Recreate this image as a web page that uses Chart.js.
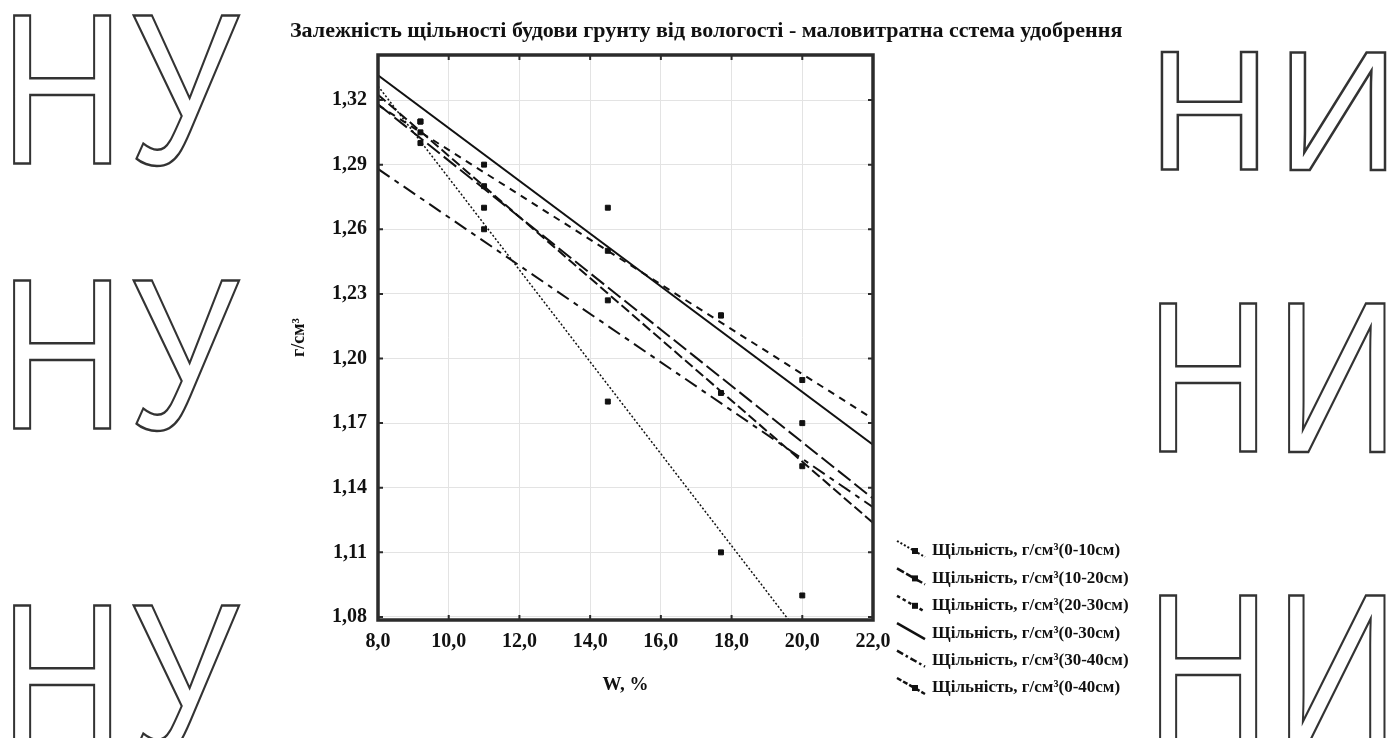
<!DOCTYPE html>
<html>
<head>
<meta charset="utf-8">
<title>Залежність щільності будови грунту від вологості</title>
<script src="https://cdn.jsdelivr.net/npm/chart.js@4.4.1/dist/chart.umd.min.js"></script>
<style>
    body { margin: 0; background: #fff; overflow: hidden; }
    #wrap { position: relative; width: 1394px; height: 738px; }
    .mark {
        position: absolute;
        font-family: "Liberation Sans", sans-serif;
        font-size: 215px;
        line-height: 1;
        color: transparent;
        -webkit-text-stroke: 2.5px #333;
        transform-origin: left top;
        transform: scaleX(0.8);
        letter-spacing: 6px;
        white-space: nowrap;
    }
    canvas { position: absolute; left: 0; top: 0; }
</style>
</head>
<body>
<div id="wrap">
    <div class="mark" style="left:0px; top:-18px;">НУ</div>
    <div class="mark" style="left:0px; top:247px;">НУ</div>
    <div class="mark" style="left:0px; top:572px;">НУ</div>
    <div class="mark" style="left:1148px; top:26px; font-size:170px; transform:scaleX(1.0);">НИ</div>
    <div class="mark" style="left:1146px; top:270px;">НИ</div>
    <div class="mark" style="left:1146px; top:562px;">НИ</div>
    <canvas id="densityChart" width="1394" height="738"></canvas>
</div>

<script>
// DATA
const chartTitle = "Залежність щільності будови грунту від вологості - маловитратна сстема удобрення";

const moisture = [9.2, 11.0, 14.5, 17.7, 20.0];

const density0_10 = [1.30, 1.26, 1.18, 1.11, 1.09];
const density10_20 = [1.31, 1.27, 1.27, 1.22, 1.17];
const density20_30 = [1.31, 1.29, 1.25, 1.22, 1.19];
const density0_40 = [1.305, 1.28, 1.227, 1.184, 1.15];

// fitted lines, read at W = 8 and W = 22
const trendX = [8, 22];
const trend0_10 = [1.3265, 1.0277];
const trend10_20 = [1.318, 1.135];
const trend20_30 = [1.3176, 1.172];
const trend0_30 = [1.3315, 1.160];
const trend30_40 = [1.288, 1.131];
const trend0_40 = [1.3225, 1.1237];

const xTicks = [8, 10, 12, 14, 16, 18, 20, 22];
const yTicks = [1.08, 1.11, 1.14, 1.17, 1.20, 1.23, 1.26, 1.29, 1.32];

const layers = ["0-10", "10-20", "20-30", "0-30", "30-40", "0-40"];

/* -------------------------
   SERIES STYLES
--------------------------*/

const series = [
    { layer: layers[0], points: density0_10, trend: trend0_10, dash: [2, 2], width: 1.5 },
    { layer: layers[1], points: density10_20, trend: trend10_20, dash: [16, 5], width: 2 },
    { layer: layers[2], points: density20_30, trend: trend20_30, dash: [7, 6], width: 2 },
    { layer: layers[3], points: null, trend: trend0_30, dash: [], width: 2 },
    { layer: layers[4], points: null, trend: trend30_40, dash: [14, 6, 5, 6], width: 2 },
    { layer: layers[5], points: density0_40, trend: trend0_40, dash: [10, 4], width: 2 }
];

const datasets = [];

series.forEach(s => {

    datasets.push({
        type: "line",
        label: s.layer,
        data: trendX.map((x, i) => ({ x: x, y: s.trend[i] })),
        borderColor: "#111",
        borderWidth: s.width,
        borderDash: s.dash,
        pointRadius: 0,
        fill: false
    });

    if (s.points) {
        datasets.push({
            type: "scatter",
            label: s.layer + " points",
            data: moisture.map((x, i) => ({ x: x, y: s.points[i] })),
            backgroundColor: "#111",
            borderColor: "#111",
            pointStyle: "rect",
            pointRadius: 3.5
        });
    }
});

const serif = "'Liberation Serif', 'DejaVu Serif', serif";

/* -------------------------
   TITLE, FRAME, LEGEND
--------------------------*/

const decorPlugin = {
    id: "decor",
    afterDraw(chart) {
        const ctx = chart.ctx;
        const area = chart.chartArea;
        const xs = chart.scales.x;
        const ys = chart.scales.y;

        ctx.save();

        // frame
        ctx.strokeStyle = "#2b2b2b";
        ctx.lineWidth = 3.5;
        ctx.setLineDash([]);
        ctx.strokeRect(area.left, area.top, area.right - area.left, area.bottom - area.top);

        // small inward ticks on all four sides
        ctx.lineWidth = 2;
        ctx.beginPath();
        xTicks.forEach(v => {
            const px = xs.getPixelForValue(v);
            ctx.moveTo(px, area.top);
            ctx.lineTo(px, area.top + 5);
            ctx.moveTo(px, area.bottom);
            ctx.lineTo(px, area.bottom - 5);
        });
        yTicks.forEach(v => {
            const py = ys.getPixelForValue(v);
            ctx.moveTo(area.left, py);
            ctx.lineTo(area.left + 5, py);
            ctx.moveTo(area.right, py);
            ctx.lineTo(area.right - 5, py);
        });
        ctx.stroke();

        // title
        ctx.fillStyle = "#111";
        ctx.font = "bold 22px " + serif;
        ctx.textAlign = "left";
        ctx.textBaseline = "middle";
        ctx.fillText(chartTitle, 290, 31);

        // legend
        ctx.font = "bold 17px " + serif;
        series.forEach((s, i) => {
            const y = 551 + i * 27.4;

            ctx.strokeStyle = "#111";
            ctx.lineWidth = s.width + 0.5;
            ctx.setLineDash(s.dash.map(d => Math.max(2, d / 2)));
            ctx.beginPath();
            ctx.moveTo(897, y - 10);
            ctx.lineTo(925, y + 6);
            ctx.stroke();
            ctx.setLineDash([]);

            if (s.points) {
                ctx.fillStyle = "#111";
                ctx.fillRect(912, y - 3, 6, 6);
            }

            ctx.fillStyle = "#111";
            ctx.fillText("Щільність, г/см³(" + s.layer + "см)", 932, y);
        });

        ctx.restore();
    }
};

/* -------------------------
   CHART
--------------------------*/

new Chart(document.getElementById("densityChart"), {
    data: { datasets: datasets },
    options: {
        responsive: false,
        animation: false,
        layout: {
            padding: { left: 278, right: 521, top: 55, bottom: 38 }
        },
        plugins: {
            legend: { display: false },
            title: { display: false },
            tooltip: { enabled: false }
        },
        scales: {
            x: {
                type: "linear",
                min: 8,
                max: 22,
                afterFit: scale => { scale.height = 80; },
                afterBuildTicks: axis => { axis.ticks = xTicks.map(v => ({ value: v })); },
                grid: { color: "#e3e3e3", drawTicks: false },
                border: { display: false },
                ticks: {
                    padding: 10,
                    color: "#111",
                    font: { family: serif, size: 20, weight: "bold" },
                    callback: v => v.toFixed(1).replace(".", ",")
                },
                title: {
                    display: true,
                    text: "W, %",
                    color: "#111",
                    font: { family: serif, size: 19, weight: "bold" },
                    padding: { top: 0, bottom: 4 }
                }
            },
            y: {
                type: "linear",
                min: 1.0786,
                max: 1.3409,
                afterFit: scale => { scale.width = 100; },
                afterBuildTicks: axis => { axis.ticks = yTicks.map(v => ({ value: v })); },
                grid: { color: "#e3e3e3", drawTicks: false },
                border: { display: false },
                ticks: {
                    padding: 11,
                    color: "#111",
                    font: { family: serif, size: 20, weight: "bold" },
                    callback: v => v.toFixed(2).replace(".", ",")
                },
                title: {
                    display: true,
                    text: "г/см³",
                    color: "#111",
                    font: { family: serif, size: 18, weight: "bold" },
                    padding: { top: 11, bottom: 0 }
                }
            }
        }
    },
    plugins: [decorPlugin]
});
</script>
</body>
</html>
